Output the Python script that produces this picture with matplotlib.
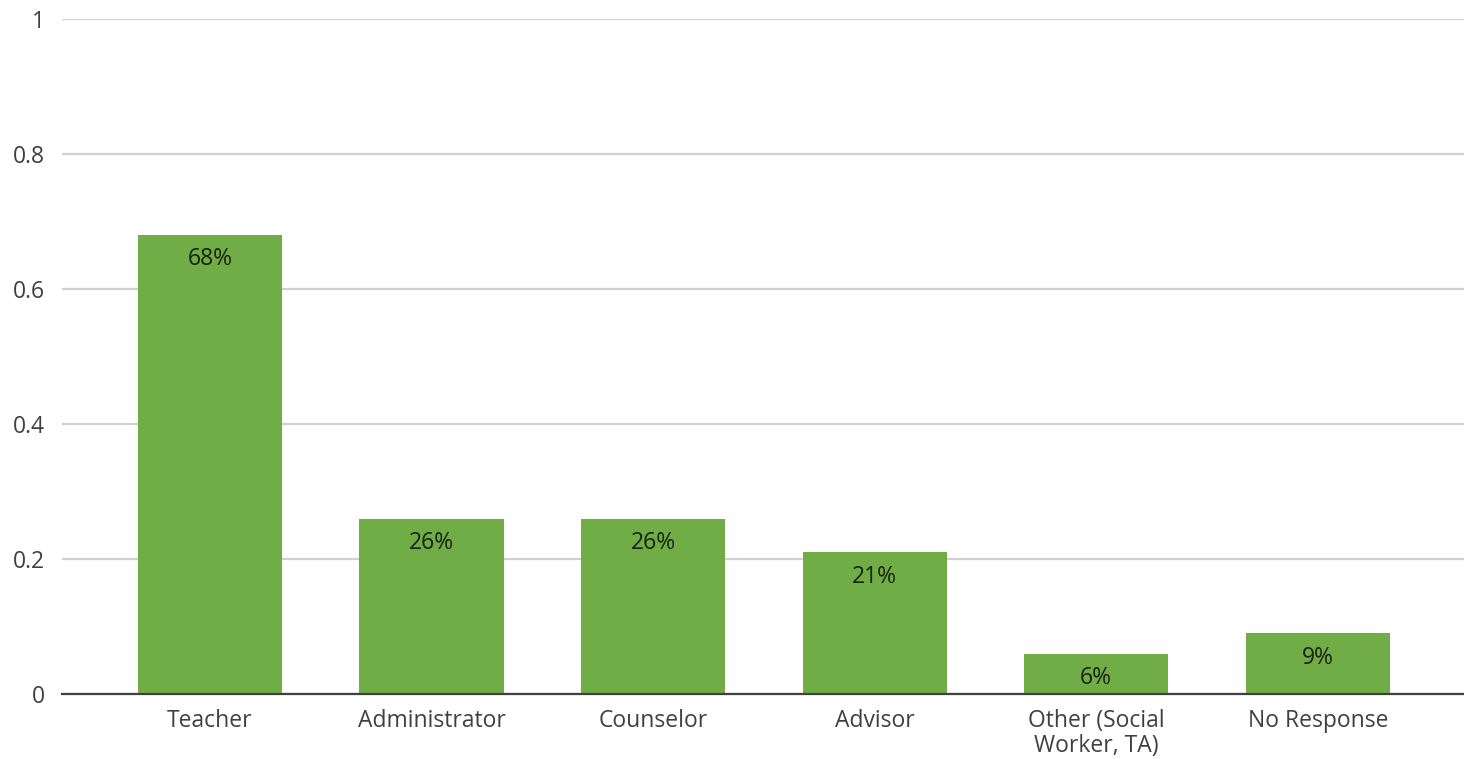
import matplotlib.pyplot as plt

roles = ["Teacher", "Administrator", "Counselor", "Advisor",
         "Other (Social\nWorker, TA)", "No Response"]
shares = [0.68, 0.26, 0.26, 0.21, 0.06, 0.09]
yticks = [0, 0.2, 0.4, 0.6, 0.8, 1]
ytick_labels = ["0", "0.2", "0.4", "0.6", "0.8", "1"]

plt.rcParams["font.family"] = ["Open Sans", "DejaVu Sans"]

fig = plt.figure(figsize=(14.64, 7.59), dpi=100)
ax = fig.add_axes([0.0423, 0.0856, 0.9577, 0.8894])

x = range(len(roles))
bars = ax.bar(x, shares, width=0.65, color="#70ad47", zorder=3)

# percentage label just inside the top of each bar
for rect, v in zip(bars, shares):
    ax.annotate(f"{v:.0%}", (rect.get_x() + rect.get_width() / 2, v),
                xytext=(0, -17.5), textcoords="offset points",
                ha="center", va="center", fontsize=16.5, color="#17220f",
                zorder=4)

ax.set_xlim(-0.668, 5.66)
ax.set_ylim(0, 1)
ax.set_yticks(yticks)
ax.set_yticklabels(ytick_labels)
ax.set_xticks(list(x))
ax.set_xticklabels(roles, linespacing=1.05)
ax.tick_params(axis="y", length=0, pad=12, labelsize=16.5, labelcolor="#404040")
ax.tick_params(axis="x", length=0, pad=11, labelsize=16.5, labelcolor="#404040")

ax.yaxis.grid(True, color="#d0d0d0", linewidth=1.6, zorder=0)
for s in ["top", "right", "left"]:
    ax.spines[s].set_visible(False)
ax.spines["bottom"].set_color("#404040")
ax.spines["bottom"].set_linewidth(1.6)
ax.spines["bottom"].set_zorder(5)

fig.savefig("out.png", dpi=100)
